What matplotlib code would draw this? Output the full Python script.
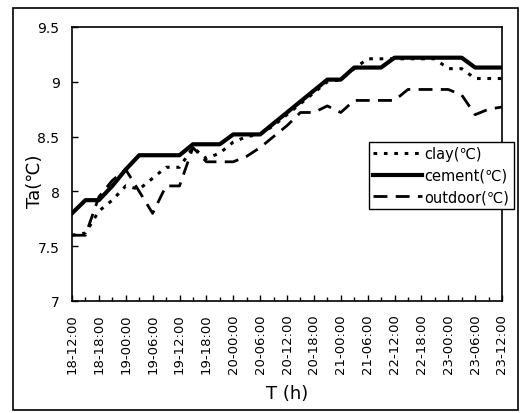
import numpy as np
import matplotlib.pyplot as plt
from matplotlib.patches import Rectangle

plt.rcParams['font.family'] = ['DejaVu Sans', 'Noto Sans CJK SC']

tick_labels = ['18-12:00', '18-18:00', '19-00:00', '19-06:00', '19-12:00', '19-18:00',
               '20-00:00', '20-06:00', '20-12:00', '20-18:00', '21-00:00', '21-06:00',
               '22-12:00', '22-18:00', '23-00:00', '23-06:00', '23-12:00']

# readings every half label step (3 h)
clay = [7.60, 7.62, 7.82, 7.92, 8.05, 8.02, 8.12, 8.22, 8.22, 8.40, 8.30, 8.35,
        8.45, 8.50, 8.52, 8.60, 8.70, 8.80, 8.90, 9.00, 9.02, 9.12, 9.21, 9.21,
        9.21, 9.21, 9.21, 9.21, 9.12, 9.12, 9.03, 9.03, 9.03]
cement = [7.80, 7.92, 7.92, 8.05, 8.20, 8.33, 8.33, 8.33, 8.33, 8.43, 8.43, 8.43,
          8.52, 8.52, 8.52, 8.62, 8.72, 8.82, 8.92, 9.02, 9.02, 9.13, 9.13, 9.13,
          9.22, 9.22, 9.22, 9.22, 9.22, 9.22, 9.13, 9.13, 9.13]
outdoor = [7.60, 7.60, 7.95, 8.10, 8.20, 8.00, 7.80, 8.05, 8.05, 8.40, 8.27, 8.27,
           8.27, 8.32, 8.40, 8.50, 8.60, 8.72, 8.72, 8.78, 8.72, 8.83, 8.83, 8.83,
           8.83, 8.93, 8.93, 8.93, 8.93, 8.88, 8.70, 8.75, 8.77]


def plot_temperatures():
	x = np.arange(len(cement)) * 0.5
	fig = plt.figure(figsize=(5.23, 4.14), dpi=100)
	ax = fig.add_axes([72/523, 1 - 302/414, 430/523, 274/414])

	ax.plot(x, clay, color='black', lw=2.2, linestyle=(0, (1.2, 2.2)), label='clay(℃)')
	ax.plot(x, cement, color='black', lw=3.0, linestyle='-', label='cement(℃)')
	ax.plot(x, outdoor, color='black', lw=2.0, linestyle=(0, (5, 3)), label='outdoor(℃)')

	ax.set_xlim(0, 16)
	ax.set_ylim(7, 9.5)
	ax.set_xticks(np.arange(len(tick_labels)))
	ax.set_xticks(np.arange(0, 16, 0.5), minor=True)
	ax.set_xticklabels(tick_labels, rotation=90, fontsize=9.5)
	ax.set_yticks([7, 7.5, 8, 8.5, 9, 9.5])
	ax.set_yticklabels(['7', '7.5', '8', '8.5', '9', '9.5'], fontsize=10)
	ax.tick_params(axis='both', which='both', direction='in', length=4, width=1)
	ax.tick_params(axis='x', which='minor', length=3)
	ax.tick_params(axis='x', which='major', pad=9)
	ax.tick_params(axis='y', which='major', pad=9)
	for s in ax.spines.values():
		s.set_linewidth(1.2)

	ax.set_xlabel('T (h)', fontsize=13, labelpad=8)
	ax.set_ylabel('Ta(℃)', fontsize=13)
	ax.yaxis.set_label_coords(-0.066, 0.44)

	leg = ax.legend(loc='upper left', bbox_to_anchor=(369/523, 1 - 143/414),
	                bbox_transform=fig.transFigure, fontsize=10.5, fancybox=False,
	                edgecolor='black', framealpha=1, borderpad=0.3, labelspacing=0.45,
	                handlelength=3.3, handletextpad=0.2, borderaxespad=0)
	leg.get_frame().set_linewidth(1.0)

	fig.patches.append(Rectangle((13/523, 1 - 411/414), 505/523, 402/414,
	                             transform=fig.transFigure, fill=False,
	                             edgecolor='black', lw=1.2))
	fig.savefig('out.png', dpi=100)


if __name__ == '__main__':
	plot_temperatures()
